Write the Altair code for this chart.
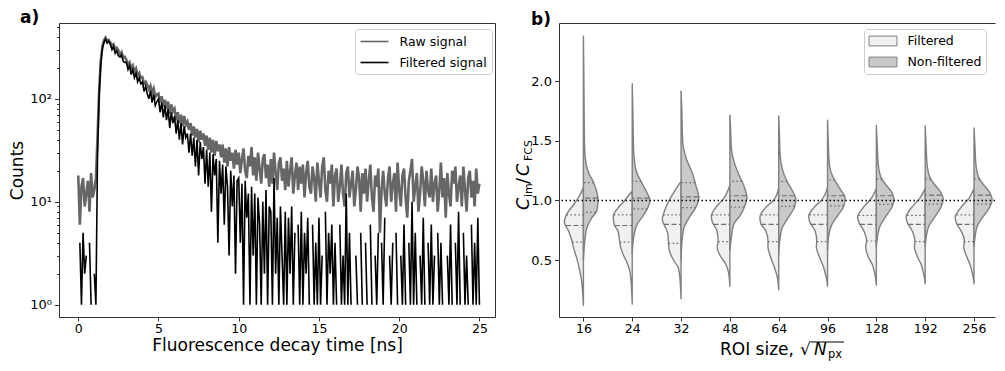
import altair as alt
import numpy as np
import pandas as pd

FONT = "DejaVu Sans"

# ---------------- panel a) : fluorescence decay histograms ----------------
time_ns = [round(0.1 * i, 1) for i in range(251)]

raw_counts = [
    18, 6, 14, 17, 9, 12, 16, 8, 19, 11,
    13, 17, 42, 118, 232, 318, 368, 392, 360, 372,
    352, 330, 338, 300, 312, 296, 270, 284, 250, 256,
    238, 214, 226, 196, 210, 182, 196, 168, 178, 160,
    162, 140, 146, 136, 124, 134, 114, 126, 104, 110,
    112, 92, 106, 84, 98, 80, 94, 72, 88, 76,
    80, 62, 74, 58, 70, 54, 68, 56, 60, 50,
    58, 44, 54, 42, 51, 38, 49, 40, 46, 35,
    44, 32, 42, 30, 40, 28, 39, 31, 36, 27,
    36, 24, 33, 22, 34, 25, 30, 21, 32, 23,
    30, 19, 26, 33, 20, 17, 28, 22, 34, 18,
    27, 16, 30, 21, 15, 26, 29, 17, 23, 14,
    26, 15, 30, 19, 13, 24, 27, 16, 21, 13,
    25, 14, 20, 27, 12, 18, 24, 13, 22, 15,
    23, 11, 19, 25, 14, 12, 22, 17, 10, 24,
    16, 11, 22, 27, 13, 10, 20, 15, 23, 9,
    18, 21, 10, 14, 23, 12, 9, 19, 22, 11,
    15, 20, 9, 13, 22, 17, 8, 19, 12, 21,
    10, 16, 23, 11, 8, 18, 14, 21, 5, 13,
    20, 12, 9, 17, 22, 10, 15, 19, 8, 24,
    13, 9, 18, 21, 11, 7, 16, 20, 26, 10,
    14, 19, 8, 12, 22, 16, 9, 20, 13, 11,
    21, 10, 15, 18, 8, 13, 24, 11, 17, 7,
    19, 12, 9, 20, 15, 22, 10, 14, 18, 9,
    22, 13, 8, 17, 20, 11, 16, 9, 21, 12,
    15,
]

filtered_counts = [
    0, 4, 1, 5, 2, 3, 0, 4, 1, 0,
    2, 1, 28, 104, 214, 306, 352, 380, 348, 362,
    338, 300, 322, 276, 292, 262, 254, 268, 232, 226,
    226, 192, 210, 172, 192, 160, 176, 146, 160, 140,
    146, 118, 132, 112, 100, 120, 92, 110, 86, 94,
    100, 74, 92, 66, 86, 62, 80, 52, 74, 58,
    68, 46, 62, 40, 58, 36, 54, 42, 46, 30,
    46, 28, 42, 22, 40, 18, 38, 26, 34, 15,
    32, 14, 30, 8, 29, 18, 26, 4, 25, 12,
    23, 6, 22, 14, 3, 20, 9, 18, 2, 16,
    17, 4, 15, 1, 16, 7, 12, 1, 14, 3,
    12, 1, 11, 6, 1, 10, 2, 13, 1, 9,
    8, 1, 17, 2, 7, 1, 9, 3, 1, 8,
    1, 7, 2, 9, 1, 5, 0, 6, 1, 8,
    1, 5, 2, 7, 1, 0, 6, 1, 4, 1,
    7, 1, 3, 0, 8, 1, 5, 2, 6, 1,
    4, 1, 0, 6, 1, 3, 1, 12, 1, 5,
    1, 0, 0, 3, 1, 0, 5, 1, 0, 4,
    1, 0, 6, 1, 0, 3, 1, 5, 0, 4,
    1, 7, 0, 0, 3, 1, 4, 0, 5, 1,
    0, 3, 1, 6, 1, 0, 4, 1, 10, 1,
    5, 1, 0, 3, 1, 7, 1, 0, 4, 1,
    6, 1, 3, 0, 5, 1, 4, 1, 0, 0,
    3, 1, 6, 1, 0, 4, 1, 8, 1, 0,
    5, 1, 3, 1, 0, 6, 1, 4, 1, 7,
    1,
]

series_names = ["Raw signal", "Filtered signal"]
series_colors = ["#666666", "#000000"]
x_ticks_a = [0, 5, 10, 15, 20, 25]
y_major_a = [1, 10, 100]
y_minor_a = [2, 3, 4, 5, 6, 7, 8, 9, 20, 30, 40, 50, 60, 70, 80, 90, 200, 300, 400, 500]

# ---------------- panel b) : split violins ----------------
roi_sizes = ["16", "24", "32", "48", "64", "96", "128", "192", "256"]
groups = ["Filtered", "Non-filtered"]
group_fill = ["#f0f0f0", "#c9c9c9"]

# (value, half-width) outline points of each half violin
filt_16 = [[0.12, 0], [0.22, 0.015], [0.32, 0.035], [0.42, 0.08], [0.52, 0.14], [0.60, 0.20], [0.67, 0.24], [0.74, 0.30], [0.82, 0.39], [0.88, 0.35], [0.96, 0.21], [1.04, 0.08], [1.11, 0]]
filt_24 = [[0.13, 0], [0.22, 0.01], [0.30, 0.02], [0.41, 0.05], [0.49, 0.12], [0.55, 0.19], [0.61, 0.24], [0.66, 0.26], [0.74, 0.29], [0.80, 0.37], [0.87, 0.39], [0.92, 0.325], [1.00, 0.155], [1.08, 0]]
filt_32 = [[0.175, 0], [0.26, 0.01], [0.33, 0.02], [0.44, 0.06], [0.49, 0.14], [0.58, 0.24], [0.66, 0.26], [0.72, 0.27], [0.79, 0.34], [0.84, 0.385], [0.88, 0.365], [0.97, 0.28], [1.08, 0.13], [1.16, 0]]
filt_48 = [[0.28, 0], [0.34, 0.01], [0.40, 0.03], [0.47, 0.09], [0.53, 0.19], [0.61, 0.26], [0.66, 0.24], [0.75, 0.27], [0.82, 0.36], [0.87, 0.38], [0.94, 0.29], [1.02, 0.12], [1.13, 0]]
filt_64 = [[0.25, 0], [0.30, 0.01], [0.36, 0.03], [0.44, 0.09], [0.53, 0.17], [0.61, 0.22], [0.66, 0.22], [0.75, 0.27], [0.80, 0.36], [0.86, 0.385], [0.94, 0.27], [1.01, 0.09], [1.11, 0]]
filt_96 = [[0.28, 0], [0.32, 0.01], [0.36, 0.03], [0.44, 0.08], [0.52, 0.16], [0.61, 0.23], [0.66, 0.22], [0.74, 0.25], [0.82, 0.365], [0.87, 0.385], [0.94, 0.28], [1.01, 0.11], [1.11, 0]]
filt_128 = [[0.29, 0], [0.33, 0.01], [0.38, 0.03], [0.46, 0.08], [0.53, 0.17], [0.61, 0.22], [0.66, 0.20], [0.74, 0.25], [0.81, 0.35], [0.86, 0.385], [0.94, 0.27], [1.02, 0.10], [1.10, 0]]
filt_192 = [[0.30, 0], [0.34, 0.01], [0.38, 0.03], [0.46, 0.08], [0.53, 0.16], [0.61, 0.22], [0.66, 0.21], [0.74, 0.26], [0.81, 0.36], [0.86, 0.39], [0.94, 0.28], [1.02, 0.11], [1.10, 0]]
filt_256 = [[0.30, 0], [0.34, 0.01], [0.38, 0.03], [0.46, 0.08], [0.53, 0.15], [0.61, 0.21], [0.67, 0.20], [0.74, 0.26], [0.81, 0.36], [0.86, 0.385], [0.94, 0.27], [1.02, 0.10], [1.10, 0]]

nonf_16 = [[0.50, 0], [0.62, 0.02], [0.70, 0.04], [0.77, 0.07], [0.855, 0.17], [0.91, 0.27], [1.00, 0.30], [1.08, 0.27], [1.16, 0.20], [1.24, 0.10], [1.32, 0.05], [1.45, 0.025], [1.75, 0.015], [2.10, 0.008], [2.38, 0]]
nonf_24 = [[0.55, 0], [0.69, 0.03], [0.80, 0.10], [0.87, 0.22], [0.94, 0.32], [1.00, 0.365], [1.05, 0.32], [1.13, 0.22], [1.25, 0.08], [1.41, 0.03], [1.70, 0.015], [1.98, 0]]
nonf_32 = [[0.50, 0], [0.66, 0.02], [0.77, 0.06], [0.86, 0.17], [0.94, 0.30], [1.02, 0.365], [1.13, 0.30], [1.22, 0.24], [1.36, 0.10], [1.49, 0.035], [1.77, 0.015], [1.92, 0]]
nonf_48 = [[0.58, 0], [0.69, 0.03], [0.80, 0.08], [0.88, 0.22], [0.97, 0.32], [1.02, 0.35], [1.13, 0.28], [1.22, 0.18], [1.33, 0.08], [1.44, 0.03], [1.60, 0.015], [1.717, 0]]
nonf_64 = [[0.55, 0], [0.66, 0.02], [0.77, 0.07], [0.86, 0.20], [0.94, 0.32], [1.01, 0.35], [1.09, 0.27], [1.16, 0.17], [1.27, 0.07], [1.38, 0.03], [1.55, 0.015], [1.71, 0]]
nonf_96 = [[0.58, 0], [0.69, 0.02], [0.80, 0.09], [0.88, 0.22], [0.95, 0.33], [1.02, 0.36], [1.09, 0.27], [1.16, 0.16], [1.24, 0.07], [1.34, 0.03], [1.50, 0.015], [1.675, 0]]
nonf_128 = [[0.61, 0], [0.69, 0.02], [0.79, 0.08], [0.87, 0.20], [0.95, 0.325], [1.01, 0.36], [1.08, 0.30], [1.13, 0.20], [1.19, 0.10], [1.30, 0.04], [1.45, 0.02], [1.63, 0]]
nonf_192 = [[0.62, 0], [0.69, 0.02], [0.79, 0.08], [0.87, 0.21], [0.95, 0.33], [1.01, 0.37], [1.08, 0.30], [1.13, 0.20], [1.19, 0.10], [1.30, 0.04], [1.45, 0.02], [1.625, 0]]
nonf_256 = [[0.62, 0], [0.69, 0.02], [0.79, 0.07], [0.87, 0.20], [0.95, 0.33], [1.01, 0.37], [1.08, 0.30], [1.13, 0.20], [1.19, 0.10], [1.30, 0.04], [1.45, 0.02], [1.61, 0]]

filt_q1 = [0.65, 0.65, 0.64, 0.655, 0.655, 0.655, 0.66, 0.655, 0.655]
filt_med = [0.79, 0.79, 0.80, 0.80, 0.80, 0.80, 0.80, 0.80, 0.80]
filt_q3 = [0.88, 0.88, 0.88, 0.88, 0.88, 0.88, 0.875, 0.875, 0.88]
nonf_q1 = [0.90, 0.93, 0.94, 0.945, 0.95, 0.955, 0.967, 0.97, 0.97]
nonf_med = [1.02, 1.02, 1.03, 1.04, 1.04, 1.04, 1.04, 1.045, 1.045]
nonf_q3 = [1.15, 1.16, 1.15, 1.16, 1.16, 1.17, 1.18, 1.18, 1.18]

ref_level = [1.0]
y_ticks_b = [0.5, 1.0, 1.5, 2.0]

# ---------------- tables ----------------
def sig_frame(name, vals):
    return pd.DataFrame({
        "t": time_ns,
        "counts": [float(v) if v > 0 else np.nan for v in vals],
        "series": name,
    })

raw_df = sig_frame(series_names[0], raw_counts)
filt_df = sig_frame(series_names[1], filtered_counts)

filt_shapes = [filt_16, filt_24, filt_32, filt_48, filt_64, filt_96, filt_128, filt_192, filt_256]
nonf_shapes = [nonf_16, nonf_24, nonf_32, nonf_48, nonf_64, nonf_96, nonf_128, nonf_192, nonf_256]

vrows, qrows = [], []
for i in range(len(roi_sizes)):
    for grp, shape, qs in [
        ("Filtered", filt_shapes[i], [(filt_q1[i], "quart"), (filt_med[i], "med"), (filt_q3[i], "quart")]),
        ("Non-filtered", nonf_shapes[i], [(nonf_q1[i], "quart"), (nonf_med[i], "med"), (nonf_q3[i], "quart")]),
    ]:
        for v, w in shape:
            vrows.append({"roi": i, "group": grp, "v": v, "w": w, "key": f"{grp}{i}"})
        vs = [p[0] for p in shape]
        ws = [p[1] for p in shape]
        for q, kind in qs:
            qrows.append({"roi": i, "group": grp, "q": q, "kind": kind, "w": float(np.interp(q, vs, ws))})
vdf = pd.DataFrame(vrows).sort_values(["key", "v"])
qdf = pd.DataFrame(qrows)

PLOT_H = 294
W_A = 436
W_B = 436

# ---------------- panel a) chart ----------------
x_scale_a = alt.Scale(domain=[-1.2, 25.97], nice=False, zero=False)
y_scale_a = alt.Scale(type="log", domain=[0.76, 545], nice=False)

x_axis_a = alt.Axis(values=x_ticks_a, title="Fluorescence decay time [ns]", tickSize=4,
                    labelPadding=1, titlePadding=3, labelFlush=False, grid=False)
y_axis_a = alt.Axis(
    values=y_major_a + y_minor_a,
    labelExpr="datum.value == 1 ? '10⁰' : datum.value == 10 ? '10¹' : datum.value == 100 ? '10²' : ''",
    tickSize={"condition": {"test": "datum.value == 1 || datum.value == 10 || datum.value == 100", "value": 4.5}, "value": 2.5},
    title="Counts", titlePadding=3, labelPadding=3, labelFontSize=13, labelFlush=False, labelOverlap=False, grid=False,
)
legend_a = alt.Legend(
    orient="none", legendX=296, legendY=6, title=None,
    symbolType="M-1,0H3", symbolSize=196, symbolStrokeWidth=1.6,
    labelOffset=24, labelFont=FONT, labelFontSize=12.5, labelColor="black",
    rowPadding=6, padding=4.5, fillColor="rgba(255,255,255,0.85)",
    strokeColor="#cccccc", cornerRadius=3,
)
color_a = alt.Color("series:N", scale=alt.Scale(domain=series_names, range=series_colors), legend=legend_a)

raw_line = alt.Chart(raw_df).mark_line(strokeWidth=2.6, clip=True, invalid="break-paths-filter-domains").encode(
    x=alt.X("t:Q", scale=x_scale_a, axis=x_axis_a),
    y=alt.Y("counts:Q", scale=y_scale_a, axis=y_axis_a),
    color=color_a,
)
filt_line = alt.Chart(filt_df).mark_line(strokeWidth=1.6, clip=True, invalid="break-paths-filter-domains").encode(
    x=alt.X("t:Q", scale=x_scale_a, axis=x_axis_a),
    y=alt.Y("counts:Q", scale=y_scale_a, axis=y_axis_a),
    color=color_a,
)
panel_a = alt.layer(raw_line, filt_line).properties(
    width=W_A, height=PLOT_H,
    title=alt.TitleParams("a)", anchor="start", frame="group", dx=-39, fontSize=17, fontWeight="bold",
                          font=FONT, color="black", offset=-6),
)

# ---------------- panel b) chart ----------------
x_scale_b = alt.Scale(domain=[-0.5, 8.43], nice=False, zero=False)
y_scale_b = alt.Scale(domain=[0.022, 2.49], nice=False, zero=False)
label_expr_b = "[" + ",".join(f"'{s}'" for s in roi_sizes) + "][datum.value]"

legend_b = alt.Legend(
    orient="none", legendX=305, legendY=6, title=None,
    symbolType="M-1,-0.7H3V0.7H-1Z", symbolSize=196, symbolStrokeColor="#808080",
    symbolStrokeWidth=1, symbolOpacity=1,
    labelOffset=24, labelFont=FONT, labelFontSize=12.5, labelColor="black",
    rowPadding=6, padding=4.5, fillColor="rgba(255,255,255,0.85)",
    strokeColor="#cccccc", cornerRadius=3,
)

y_axis_b = alt.Axis(orient="left", values=y_ticks_b, format=".1f", title=None, labels=True,
                    tickSize=4.5, labelPadding=3, labelFontSize=13, labelFlush=False, grid=False)

violins = alt.Chart(vdf).transform_calculate(
    xw="datum.group == 'Filtered' ? datum.roi - datum.w : datum.roi + datum.w"
).mark_area(orient="horizontal", interpolate="monotone", stroke="#808080", strokeWidth=1.4,
            strokeJoin="round", opacity=1).encode(
    x=alt.X("xw:Q", scale=x_scale_b, stack=None,
            axis=alt.Axis(orient="bottom", values=list(range(len(roi_sizes))), labelExpr=label_expr_b,
                          title=None, tickSize=4, labelPadding=1, labelFlush=False, grid=False)),
    x2="roi:Q",
    y=alt.Y("v:Q", scale=y_scale_b, axis=y_axis_b),
    fill=alt.Fill("group:N", scale=alt.Scale(domain=groups, range=group_fill), legend=legend_b),
    detail="key:N",
)

quarts = alt.Chart(qdf).transform_calculate(
    xq="datum.group == 'Filtered' ? datum.roi - datum.w : datum.roi + datum.w"
).mark_rule(color="#6e6e6e", strokeWidth=1.2).encode(
    x=alt.X("xq:Q", scale=x_scale_b,
            axis=alt.Axis(orient="top", labels=False, ticks=False, title=None, grid=False)),
    x2="roi:Q",
    y=alt.Y("q:Q", scale=y_scale_b, axis=y_axis_b),
    strokeDash=alt.StrokeDash("kind:N", scale=alt.Scale(domain=["med", "quart"], range=[[5, 2.5], [1.6, 2.4]]),
                              legend=None),
)

ref_line = alt.Chart(pd.DataFrame({"ref": ref_level})).mark_rule(
    color="black", strokeDash=[1.5, 2.5], strokeWidth=1.5
).encode(y=alt.Y("ref:Q", scale=y_scale_b, axis=y_axis_b))

dummy = pd.DataFrame({"d": [0]})


def piece(txt, x, y, size, italic=False, angle=0):
    return alt.Chart(dummy).mark_text(
        text=txt, font=FONT, fontSize=size, fontStyle="italic" if italic else "normal",
        angle=angle, align="left", baseline="alphabetic", color="black",
    ).encode(x=alt.value(x), y=alt.value(y))


ytitle = [
    piece("C", -30, 187, 17.5, True, 270),
    piece("im", -27, 174, 11, False, 270),
    piece("/", -30, 161, 17.5, False, 270),
    piece("C", -30, 153, 17.5, True, 270),
    piece("FCS", -27, 138, 11, False, 270),
]
xtitle = [
    piece("ROI size,", 161, 332, 17),
    piece("√", 241, 332, 17),
    piece("N", 255, 332, 17, True),
    piece("px", 269, 335, 11.5),
    alt.Chart(dummy).mark_rule(color="black", strokeWidth=1).encode(
        x=alt.value(252), x2=alt.value(285), y=alt.value(319)),
]

panel_b = alt.layer(violins, quarts, ref_line, *ytitle, *xtitle).resolve_axis(x="independent").properties(
    width=W_B, height=PLOT_H,
    view=alt.ViewBackground(stroke="transparent"),
    title=alt.TitleParams("b)", anchor="start", frame="group", dx=-28, fontSize=17, fontWeight="bold",
                          font=FONT, color="black", offset=-6),
)

chart = alt.hconcat(panel_a, panel_b, spacing=64, bounds="flush").resolve_scale(
    color="independent", fill="independent"
).properties(
    padding={"left": 0, "top": 0, "right": 0, "bottom": 0}
).configure(font=FONT).configure_axis(
    labelFont=FONT, labelFontSize=12.5, labelColor="black",
    titleFont=FONT, titleFontSize=17, titleFontWeight="normal", titleColor="black",
    tickColor="#333333", domainColor="#333333", tickWidth=1, domainWidth=1,
).configure_view(stroke="#333333", strokeWidth=1)

chart.save("out.html", embed_options={"renderer": "svg", "actions": False})
